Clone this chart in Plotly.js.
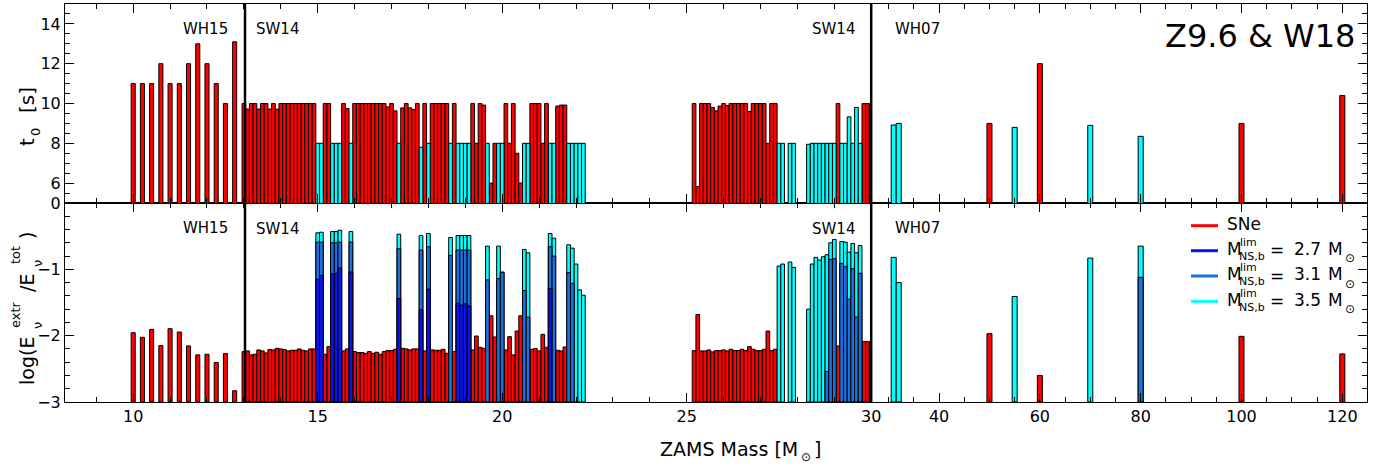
<!DOCTYPE html>
<html><head><meta charset="utf-8">
<script src="https://cdn.plot.ly/plotly-3.0.1.min.js"></script>
<style>html,body{margin:0;padding:0;background:#fff}#chart{width:1387px;height:471px}</style>
</head><body><div id="chart"></div>
<script>
const N = null;
// ---------- WH15 models ----------
const wh15Mass = [10,10.25,10.5,10.75,11,11.25,11.5,11.75,12,12.25,12.5,12.75];
const wh15T0   = [11,11,11,12,11,11,12,13,12,11,10,13.1];
const wh15LogE = [-1.955,-2.025,-1.905,-2.15,-1.895,-1.945,-2.155,-2.29,-2.28,-2.405,-2.27,-2.83];

// ---------- SW14 models ----------
const sw14Mass = [
 13.0,13.1,13.2,13.3,13.4,13.5,13.6,13.7,13.8,13.9,
 14.0,14.1,14.2,14.3,14.4,14.5,14.6,14.7,14.8,14.9,
 15.0,15.1,15.2,15.3,15.4,15.5,15.6,15.7,15.8,15.9,
 16.0,16.1,16.2,16.3,16.4,16.5,16.6,16.7,16.8,16.9,
 17.0,17.1,17.2,17.3,17.4,17.5,17.6,17.7,17.8,17.9,
 18.0,18.1,18.2,18.3,18.4,18.5,18.6,18.7,18.8,18.9,
 19.0,19.1,19.2,19.3,19.4,19.5,19.6,19.7,19.8,19.9,
 20.0,20.1,20.2,20.3,20.4,20.5,20.6,20.7,20.8,20.9,
 21.0,21.1,21.2,21.3,21.4,21.5,21.6,21.7,21.8,21.9,
 22.0,22.1,22.2,
 25.2,25.3,25.4,25.5,25.6,25.7,25.8,25.9,
 26.0,26.1,26.2,26.3,26.4,26.5,26.6,26.7,26.8,26.9,
 27.0,27.1,27.2,27.3,27.4,27.5,27.6,27.8,27.9,
 28.3,28.4,28.5,28.6,28.7,28.8,28.9,
 29.0,29.1,29.2,29.3,29.4,29.5,29.6,29.7,29.8,29.9,
 30.0];
// S = supernova, B = black hole formation
const sw14Outcome = (
 'SSSSSSSSSS'+'SSSSSSSSSS'+'BBSSBBBSSB'+'SSSSSSSSSS'+'SSBSSSSSBS'+
 'BSSSSSBSBB'+'BBSSSSBSSB'+'BSSSSSBBSS'+'SSSBBSSSBB'+'BBB'+
 'SSSSSSSS'+'SSSSSSSSSS'+'SSSSSBBBB'+'BBBBBBB'+'BSBBBBBBSS'+'S').split('');
const sw14T0 = [
 10,9.72,10,10,9.72,10,10,9.72,10,9.72,
 10,10,10,10,10,10,10,10,10,10,
 8,8,10,10,8,8,8,10,9.75,8,
 10,10,10,10,10,10,10,10,10,9.83,
 10,9.63,8,9.78,10,9.78,9.7,10,7.8,10,
 8,10,10,10,10,10,8,10,8,8,
 8,8,10,8,10,9.92,8,6,8,8,
 8,10,8,10,7.5,6,8,8,10,10,
 10,8,10,8,8,9.87,9.92,9.92,8,8,
 8,8,8,
 10,5.83,10,10,10,9.8,9.63,9.87,
 10,9.9,10,10,10,10,10,9.6,10,10,
 10,10,8,10,10,8,8,8,8,
 7.95,8,8,8,8,8,8,
 8,10,8,8,9.33,8,9.8,8,10,10,
 10];
const sw14LogSNe = [
 -2.24,-2.23,-2.29,-2.28,-2.215,-2.23,-2.26,-2.21,-2.215,-2.19,
 -2.2,-2.21,-2.23,-2.22,-2.22,-2.2,-2.22,-2.23,-2.2,-2.2,
 N,N,-2.28,-2.165,N,N,N,-2.23,-2.2,N,
 -2.24,-2.255,-2.255,-2.265,-2.24,-2.265,-2.25,-2.28,-2.24,-2.225,
 -2.225,-2.205,N,-2.19,-2.2,-2.215,-2.2,-2.2,N,-2.23,
 N,-2.215,-2.22,-2.22,-2.205,-2.265,N,-2.24,N,N,
 N,N,-2.215,-2.005,-2.175,-2.19,N,-1.7,-2.02,N,
 N,-2.215,-2.015,-2.29,-1.93,-1.7,N,N,-2.205,-2.195,
 -2.23,-1.98,-2.175,N,N,-2.22,-2.23,-2.17,N,N,
 N,N,N,
 -2.225,-1.68,-2.23,-2.23,-2.215,-2.245,-2.225,-2.225,
 -2.215,-2.23,-2.205,-2.225,-2.225,-2.205,-2.225,-2.165,-2.205,-2.225,
 -2.225,-2.205,-1.93,-2.225,-2.205,N,N,N,N,
 N,N,N,N,N,N,N,
 N,-2.155,N,N,N,N,N,N,-2.09,-2.09,
 -2.09];
const sw14Log27 = [
 N,N,N,N,N,N,N,N,N,N,
 N,N,N,N,N,N,N,N,N,N,
 -1.15,-1.09,N,N,-1.07,-1.06,-0.98,N,N,-1.04,
 N,N,N,N,N,N,N,N,N,N,
 N,N,-1.44,N,N,N,N,N,-1.61,N,
 -1.3,N,N,N,N,N,N,N,-1.51,-1.54,
 -1.52,-1.55,N,N,N,N,N,N,N,N,
 N,N,N,N,N,N,N,N,N,N,
 N,N,N,-1.29,N,N,N,N,N,N,
 N,N,N,
 N,N,N,N,N,N,N,N,
 N,N,N,N,N,N,N,N,N,N,
 N,N,N,N,N,N,N,N,N,
 N,N,N,N,N,N,N,
 N,N,N,N,N,N,N,N,N,N,
 N];
const sw14Log31 = [
 N,N,N,N,N,N,N,N,N,N,
 N,N,N,N,N,N,N,N,N,N,
 -0.59,-0.59,N,N,-0.6,-0.6,-0.59,N,N,-0.59,
 N,N,N,N,N,N,N,N,N,N,
 N,N,-0.69,N,N,N,N,N,-0.71,N,
 -0.66,N,N,N,N,N,-0.79,N,-0.71,-0.71,
 -0.71,-0.71,N,N,N,N,-1.16,N,N,-1.14,
 -1.05,N,N,N,N,N,-1.32,-1.72,N,N,
 N,N,N,-0.66,-0.8,N,N,N,-1.05,-1.21,
 N,N,N,
 N,N,N,N,N,N,N,N,
 N,N,N,N,N,N,N,N,N,N,
 N,N,N,N,N,N,N,N,N,
 N,N,N,N,N,-2.54,-0.85,
 -0.84,N,-0.91,-0.96,-1.45,-0.99,-1.72,-1.06,N,N,
 N];
const sw14Log35 = [
 N,N,N,N,N,N,N,N,N,N,
 N,N,N,N,N,N,N,N,N,N,
 -0.45,-0.44,N,N,-0.43,-0.43,-0.41,N,N,-0.43,
 N,N,N,N,N,N,N,N,N,N,
 N,N,-0.47,N,N,N,N,N,-0.49,N,
 -0.46,N,N,N,N,N,-0.52,N,-0.49,-0.49,
 -0.49,-0.49,N,N,N,N,-0.65,N,N,-0.65,
 -1.04,N,N,N,N,N,-0.7,-0.75,N,N,
 N,N,N,-0.46,-0.53,N,N,N,-0.63,-0.68,
 -0.92,-1.31,-1.39,
 N,N,N,N,N,N,N,N,
 N,N,N,N,N,N,N,N,N,N,
 N,N,N,N,N,-0.95,-0.92,-0.89,-0.97,
 -1.6,-0.92,-0.82,-0.86,-0.81,-0.78,-0.6,
 -0.55,N,-0.58,-0.59,-0.74,-0.61,-0.75,-0.64,N,N,
 N];

// ---------- WH07 models ----------
const wh07Mass    = [31,32,50,55,60,70,80,100,120];
const wh07Outcome = ['B','B','S','B','S','B','B','S','S'];
const wh07T0      = [8.92,9.0,9.0,8.8,12,8.9,8.35,9.0,10.4];
const wh07LogSNe  = [N,N,-1.97,N,-2.6,N,N,-2.01,-2.275];
const wh07Log31   = [N,N,N,N,N,N,-1.12,N,N];
const wh07Log35   = [-0.82,-1.2,N,-1.41,N,-0.83,-0.65,N,N];

// ---------- legend / label texts ----------
const legendLimits = ['2.7','3.1','3.5'];
const setLabels = ['WH15','SW14','SW14','WH07'];

// ---------- style ----------
const RED='#ff0000', CYAN='#00ffff', MID='#1a72e0', DARK='#0a14f0';
const LOGBASE = -3;
const FONT = 'DejaVu Sans, Arial, sans-serif';
const outline = {color:'#000', width:1};

function pick(xs, vs, cond){ const x=[],y=[]; xs.forEach((m,i)=>{ if(vs[i]!==null && cond(i)){x.push(m);y.push(vs[i]);} }); return {x,y}; }
function topBar(d, color, w, xa, ya){ return {type:'bar', x:d.x, y:d.y, width:w, marker:{color, line:outline}, xaxis:xa, yaxis:ya, showlegend:false, hoverinfo:'x+y'}; }
function logBar(d, color, w, xa, ya){ return {type:'bar', x:d.x, y:d.y.map(v=>v-LOGBASE), base:LOGBASE, width:w, marker:{color, line:outline}, xaxis:xa, yaxis:ya, showlegend:false, hoverinfo:'x'}; }
const all = ()=>true;
const isS = o => i => o[i]==='S';
const isB = o => i => o[i]==='B';

const traces = [
 topBar(pick(wh15Mass, wh15T0, all), RED, 0.11, 'x3','y2'),
 topBar(pick(sw14Mass, sw14T0, isS(sw14Outcome)), RED, 0.1, 'x3','y2'),
 topBar(pick(sw14Mass, sw14T0, isB(sw14Outcome)), CYAN, 0.1, 'x3','y2'),
 topBar(pick(wh07Mass, wh07T0, isS(wh07Outcome)), RED, 1.0, 'x4','y4'),
 topBar(pick(wh07Mass, wh07T0, isB(wh07Outcome)), CYAN, 1.0, 'x4','y4'),
 logBar(pick(wh15Mass, wh15LogE, all), RED, 0.11, 'x','y'),
 logBar(pick(sw14Mass, sw14LogSNe, all), RED, 0.1, 'x','y'),
 logBar(pick(sw14Mass, sw14Log35, all), CYAN, 0.1, 'x','y'),
 logBar(pick(sw14Mass, sw14Log31, all), MID, 0.1, 'x','y'),
 logBar(pick(sw14Mass, sw14Log27, all), DARK, 0.1, 'x','y'),
 logBar(pick(wh07Mass, wh07LogSNe, all), RED, 1.0, 'x2','y3'),
 logBar(pick(wh07Mass, wh07Log35, all), CYAN, 1.0, 'x2','y3'),
 logBar(pick(wh07Mass, wh07Log31, all), MID, 1.0, 'x2','y3'),
];

// ---------- layout geometry (pixels of the 1387x471 page) ----------
const PL=65, PR=1367, PT=4, PB=402;
const fx = p => (p-PL)/(PR-PL);
const fy = p => (PB-p)/(PB-PT);
const SPLIT = fx(871.2);
const LEFT_RANGE = [8.152, 30];
const RIGHT_RANGE = [26.54, 124.9];

const tickFont = {family:FONT, size:16, color:'#000'};
function xax(domain, range, anchor, labels, tickvals, minorDtick){
  return {domain, range, anchor, showline:true, linecolor:'#000', linewidth:1, mirror:'ticks',
    ticks:'inside', ticklen:9, tickwidth:1, tickcolor:'#000', tickmode:'array', tickvals,
    ticktext: tickvals.map(String), showticklabels:labels, tickfont:tickFont, showgrid:false, zeroline:false,
    minor:{ticks:'inside', ticklen:5, tickcolor:'#000', dtick:minorDtick, tick0:0, showgrid:false}, fixedrange:true};
}
function yax(domain, range, anchor, side, labels, dtick, minorDtick){
  return {domain, range, anchor, side, showline:true, linecolor:'#000', linewidth:1, mirror: side==='left',
    ticks:'inside', ticklen:9, tickwidth:1, tickcolor:'#000', dtick, tick0:0, showticklabels:labels,
    tickfont:tickFont, showgrid:false, zeroline:false,
    minor:{ticks:'inside', ticklen:5, tickcolor:'#000', dtick:minorDtick, tick0:0, showgrid:false}, fixedrange:true};
}

const ann = (x,y,text,size,extra) => Object.assign({xref:'paper', yref:'paper', x:fx(x), y:fy(y), text, showarrow:false,
  font:{family:FONT, size, color:'#000'}, xanchor:'center', yanchor:'middle', borderpad:0}, extra||{});
const rot = {textangle:-90};
const L = {xanchor:'left'};

const annotations = [
  ann(205,29,setLabels[0],15), ann(277,29,setLabels[1],15), ann(833,29,setLabels[2],15), ann(917,29,setLabels[3],15),
  ann(205,228,setLabels[0],15), ann(277,229,setLabels[1],15), ann(833,229,setLabels[2],15), ann(917,228,setLabels[3],15),
  ann(1260,36,'Z9.6 &amp; W18',32),
  // x title: ZAMS Mass [M_sun]
  ann(799,449,'ZAMS Mass [M',19,{xanchor:'right'}),
  ann(800,457,'⊙',12,L),
  ann(813,449,']',19,L),
  // top y title: t_0 [s]
  ann(27,142,'t',20,rot),
  ann(35,132,'0',13,rot),
  ann(27,100,'[s]',20,rot),
  // bottom y title: log(E_nu^extr / E_nu^tot)
  ann(27,361,'log(E',19,rot),
  ann(15,315,'extr',13,rot),
  ann(37,326,'ν',13,rot),
  ann(27,283,'/E',19,rot),
  ann(15,255,'tot',13,rot),
  ann(37,264,'ν',13,rot),
  ann(27,236,')',19,rot),
  // legend text
  ann(1226,224,'SNe',17,L),
];
const rowY = [249, 274.5, 300];
legendLimits.forEach((v,i)=>{
  const y=rowY[i];
  annotations.push(ann(1226,y,'M',17,L));
  annotations.push(ann(1238.5,y-7,'lim',11,L));
  annotations.push(ann(1237.5,y+7,'NS,b',11,L));
  annotations.push(ann(1277,y+1,'=',17));
  annotations.push(ann(1293,y,v,17,L));
  annotations.push(ann(1327,y,'M',17,L));
  annotations.push(ann(1344,y+9,'⊙',12,L));
});
const lineY = [225.7, 250.7, 276, 301.3];
const lineCols = [RED, DARK, MID, CYAN];
const shapes = lineY.map((y,i)=>({type:'line', xref:'paper', yref:'paper', x0:fx(1191), x1:fx(1218), y0:fy(y), y1:fy(y), line:{color:lineCols[i], width:3}}));
shapes.push({type:'line', xref:'x', yref:'paper', x0:13.03, x1:13.03, y0:0, y1:1, line:{color:'#000', width:2.5}, layer:'above'});
shapes.push({type:'line', xref:'paper', yref:'paper', x0:SPLIT, x1:SPLIT, y0:0, y1:1, line:{color:'#000', width:2.5}, layer:'above'});

const layout = {
  width:1387, height:471, margin:{l:PL, r:1387-PR, t:PT, b:471-PB},
  paper_bgcolor:'#fff', plot_bgcolor:'#fff', barmode:'overlay', showlegend:false,
  font:{family:FONT, color:'#000'},
  xaxis:  xax([0,SPLIT], LEFT_RANGE, 'y', true, [10,15,20,25,30], 1),
  xaxis2: xax([SPLIT,1], RIGHT_RANGE, 'y3', true, [40,60,80,100,120], 5),
  xaxis3: xax([0,SPLIT], LEFT_RANGE, 'y2', false, [10,15,20,25,30], 1),
  xaxis4: xax([SPLIT,1], RIGHT_RANGE, 'y4', false, [40,60,80,100,120], 5),
  yaxis:  yax([0,0.5], [-3,0], 'x', 'left', true, 1, 0.2),
  yaxis2: yax([0.5,1], [5,15], 'x', 'left', true, 2, 0.5),
  yaxis3: yax([0,0.5], [-3,0], 'x2', 'right', false, 1, 0.2),
  yaxis4: yax([0.5,1], [5,15], 'x2', 'right', false, 2, 0.5),
  annotations, shapes
};
Plotly.newPlot('chart', traces, layout, {staticPlot:true, displayModeBar:false});
</script></body></html>
